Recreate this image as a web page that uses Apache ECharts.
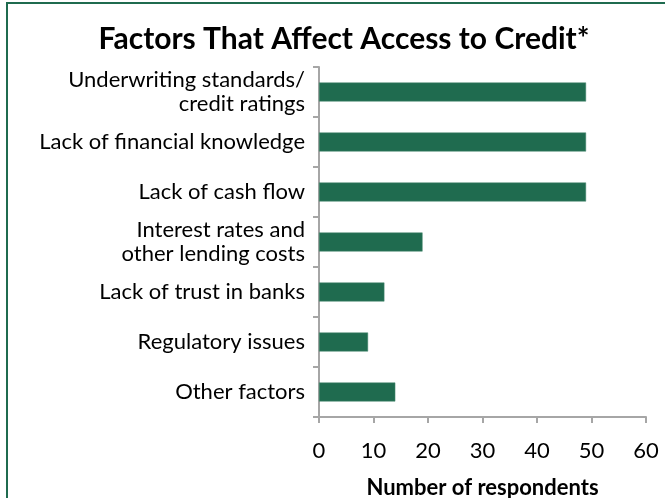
<!DOCTYPE html>
<html>
<head>
<meta charset="utf-8">
<script src="https://cdn.jsdelivr.net/npm/echarts@6/dist/echarts.min.js"></script>
<style>
  html, body { margin: 0; padding: 0; background: #fff; }
  #chart { width: 665px; height: 498px; }
</style>
</head>
<body>
<div id="chart"></div>
<script>
// data
const factors = [
  "Underwriting standards/\ncredit ratings",
  "Lack of financial knowledge",
  "Lack of cash flow",
  "Interest rates and\nother lending costs",
  "Lack of trust in banks",
  "Regulatory issues",
  "Other factors"
];
const respondents = [49, 49, 49, 19, 12, 9, 14];
const xTicks = [0, 10, 20, 30, 40, 50, 60];

const chart = echarts.init(document.getElementById("chart"));
const font = "Lato, 'Noto Sans', sans-serif";
const green = "#1f6b4f";

const option = {
  animation: false,
  textStyle: { fontFamily: font },
  title: {
    text: "Factors That Affect Access to Credit*",
    left: 339,
    textAlign: "center",
    top: 19,
    textStyle: { fontFamily: font, fontSize: 30, fontWeight: "bold", color: "#000" }
  },
  // border on top and left of the frame
  graphic: [
    { type: "rect", shape: { x: 6, y: 2, width: 2, height: 496 }, style: { fill: green } },
    { type: "rect", shape: { x: 6, y: 2, width: 659, height: 2 }, style: { fill: green } }
  ],
  grid: { left: 319, right: 19, top: 67, bottom: 81, outerBoundsMode: "none", containLabel: false },
  xAxis: {
    type: "value",
    min: xTicks[0],
    max: xTicks[xTicks.length - 1],
    interval: 10,
    name: "Number of respondents",
    nameLocation: "middle",
    nameGap: 60,
    nameTextStyle: { fontFamily: font, fontSize: 22, fontWeight: "bold", color: "#000" },
    axisLine: { show: true, lineStyle: { color: "#a6a6a6", width: 2 } },
    axisTick: { show: true, length: 6, lineStyle: { color: "#a6a6a6", width: 2 } },
    axisLabel: { fontSize: 22, color: "#000", margin: 23, fontFamily: font },
    splitLine: { show: false }
  },
  yAxis: {
    type: "category",
    data: factors,
    inverse: true,
    axisLine: { show: true, lineStyle: { color: "#a6a6a6", width: 2 } },
    axisTick: { show: true, length: 6, lineStyle: { color: "#a6a6a6", width: 2 } },
    axisLabel: {
      fontSize: 22, color: "#000", margin: 14, lineHeight: 24,
      padding: [5, 0, 0, 0], fontFamily: font
    }
  },
  series: [
    {
      type: "bar",
      data: respondents,
      barWidth: 19,
      itemStyle: { color: green, borderColor: "#4d8a72", borderWidth: 0.5 }
    }
  ]
};

chart.setOption(option);
</script>
</body>
</html>
